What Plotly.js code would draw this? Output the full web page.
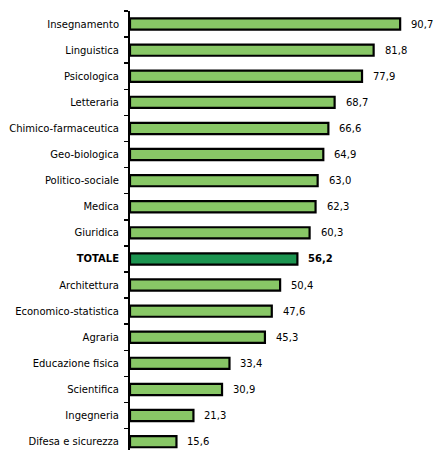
<!DOCTYPE html>
<html>
<head>
<meta charset="utf-8">
<script src="https://cdn.plot.ly/plotly-3.0.1.min.js"></script>
<style>html,body{margin:0;padding:0;background:#fff;}#chart{width:435px;height:450px;}</style>
</head>
<body>
<div id="chart"></div>
<script>
const categories = ["Insegnamento","Linguistica","Psicologica","Letteraria","Chimico-farmaceutica","Geo-biologica","Politico-sociale","Medica","Giuridica","TOTALE","Architettura","Economico-statistica","Agraria","Educazione fisica","Scientifica","Ingegneria","Difesa e sicurezza"];
const values = [90.7,81.8,77.9,68.7,66.6,64.9,63.0,62.3,60.3,56.2,50.4,47.6,45.3,33.4,30.9,21.3,15.6];
const highlight = "TOTALE";

const fmt = v => v.toFixed(1).replace('.', ',');
const colors = categories.map(c => c === highlight ? '#1c9450' : '#88c766');
const tickText = categories.map(c => c === highlight ? '<b>' + c + '</b>' : c);

const trace = {
  type: 'bar',
  orientation: 'h',
  y: categories,
  x: values,
  marker: {color: colors, line: {color: '#000', width: 2.2}},
  hoverinfo: 'none'
};

const annotations = categories.map((c, i) => ({
  x: values[i], y: c, xref: 'x', yref: 'y',
  text: c === highlight ? '<b>' + fmt(values[i]) + '</b>' : fmt(values[i]),
  showarrow: false, xanchor: 'left', yanchor: 'middle', xshift: 9,
  font: {family: 'DejaVu Sans', size: 10, color: '#000'}
}));

const layout = {
  width: 435, height: 450,
  margin: {l: 130, r: 0, t: 11, b: 0},
  paper_bgcolor: '#fff', plot_bgcolor: '#fff',
  showlegend: false,
  bargap: 0.57,
  font: {family: 'DejaVu Sans', size: 10, color: '#000'},
  xaxis: {range: [0, 102.4], visible: false, fixedrange: true},
  yaxis: {
    type: 'category',
    categoryorder: 'array', categoryarray: categories,
    tickvals: categories, ticktext: tickText,
    range: [16.32, -0.5],
    showline: true, linecolor: '#000', linewidth: 2,
    ticks: 'outside', tickson: 'boundaries', ticklen: 4, tickwidth: 1.5, tickcolor: '#000',
    showgrid: false, zeroline: false,
    ticklabelstandoff: 7,
    tickfont: {family: 'DejaVu Sans', size: 10, color: '#000'}
  },
  annotations: annotations
};

Plotly.newPlot('chart', [trace], layout, {displayModeBar: false, staticPlot: true});
</script>
</body>
</html>
